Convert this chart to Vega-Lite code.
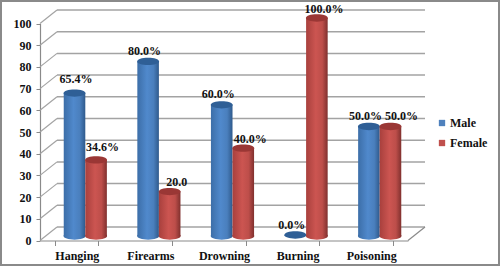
{"$schema":"https://vega.github.io/schema/vega-lite/v6.json","width":500,"height":266,"padding":0,"autosize":"none","background":"#ffffff",
"config":{"view":{"stroke":"#8a8a8a","strokeWidth":4},"font":"Liberation Serif","axis":{"labelFont":"Liberation Serif","labelFontWeight":"bold","labelFontSize":12,"labelColor":"#111111"},"axisY":{"tickCount":11,"labelOverlap":false},"legend":{"labelFont":"Liberation Serif","labelFontWeight":"bold","labelFontSize":12,"labelColor":"#111111"}},
"datasets":{"rows":[
{"method":"Hanging","sex":"Male","value":65.4,"label":"65.4%"},{"method":"Hanging","sex":"Female","value":34.6,"label":"34.6%"},
{"method":"Firearms","sex":"Male","value":80,"label":"80.0%"},{"method":"Firearms","sex":"Female","value":20,"label":"20.0"},
{"method":"Drowning","sex":"Male","value":60,"label":"60.0%"},{"method":"Drowning","sex":"Female","value":40,"label":"40.0%"},
{"method":"Burning","sex":"Male","value":0,"label":"0.0%"},{"method":"Burning","sex":"Female","value":100,"label":"100.0%"},
{"method":"Poisoning","sex":"Male","value":50,"label":"50.0%"},{"method":"Poisoning","sex":"Female","value":50,"label":"50.0%"}],
"ticks":[{"tick":0},{"tick":10},{"tick":20},{"tick":30},{"tick":40},{"tick":50},{"tick":60},{"tick":70},{"tick":80},{"tick":90},{"tick":100}],
"floor":[{"tick":0}]},
"resolve":{"scale":{"x":"independent","xOffset":"independent"},"axis":{"x":"independent"}},
"layer":[
{"data":{"name":"ticks"},"mark":{"type":"rule","color":"#a3a3a3","strokeWidth":1.5,"yOffset":-13.5,"y2Offset":-13.5},
 "encoding":{"x":{"datum":17,"type":"quantitative","scale":{"domain":[0,385],"range":[40,425]},"axis":null},"x2":{"datum":385},"y":{"field":"tick","type":"quantitative","scale":{"domain":[0,100],"range":[240.5,23.5]},"axis":{"values":[0,10,20,30,40,50,60,70,80,90,100],"labelOverlap":false,"title":null,"grid":false,"offset":-40,"domainColor":"#8a8a8a","tickColor":"#8a8a8a","tickSize":4,"labelPadding":5,"domainWidth":1.2}},"y2":{"field":"tick"}}},
{"data":{"name":"ticks"},"mark":{"type":"rule","color":"#a3a3a3","strokeWidth":1.2,"y2Offset":-13.5},
 "encoding":{"x":{"datum":0,"type":"quantitative","scale":{"domain":[0,385],"range":[40,425]},"axis":null},"x2":{"datum":17},"y":{"field":"tick","type":"quantitative"},"y2":{"field":"tick"}}},
{"data":{"name":"floor"},"mark":{"type":"rule","color":"#8a8a8a","strokeWidth":1.2,"y2Offset":-13.5},
 "encoding":{"x":{"datum":368,"type":"quantitative","scale":{"domain":[0,385],"range":[40,425]},"axis":null},"x2":{"datum":385},"y":{"field":"tick","type":"quantitative"},"y2":{"field":"tick"}}},
{"data":{"name":"rows"},"mark":{"type":"point","filled":true,"opacity":0,"shape":"square"},
 "encoding":{"x":{"field":"method","type":"nominal","sort":null,"scale":{"domain":["Hanging","Firearms","Drowning","Burning","Poisoning"],"range":[40,408],"paddingInner":0.414,"paddingOuter":0.207},"axis":{"title":null,"labelAngle":0,"offset":-25.5,"domainColor":"#8a8a8a","tickColor":"#8a8a8a","tickBand":"extent","tickSize":5,"labelPadding":5,"domainWidth":1.2}},"y":{"field":"value","type":"quantitative"},
 "color":{"field":"sex","type":"nominal","scale":{"domain":["Male","Female"],"range":["#4f81bd","#c0504d"]},"legend":{"title":null,"orient":"none","legendX":436,"legendY":117,"symbolType":"square","symbolSize":40,"symbolOpacity":1,"rowPadding":8,"labelOffset":2}}}},
{"data":{"name":"rows"},"transform":[{"filter":"datum.sex==='Male'"}],"layer":[
 {"mark":{"type":"point","filled":true,"opacity":1,"size":484,"shape":"M-1,0A1,0.33,0,1,1,1,0A1,0.33,0,1,1,-1,0Z","fill":{"gradient":"linear","x1":0,"x2":1,"y1":0,"y2":0,"stops":[{"offset":0,"color":"#3c6ea8"},{"offset":0.45,"color":"#5089cc"},{"offset":0.75,"color":"#4a7fbd"},{"offset":1,"color":"#2f5a8c"}]}},
  "transform":[{"filter":"datum.value>0"}],
  "encoding":{"x":{"field":"method","type":"nominal","sort":null,"scale":{"domain":["Hanging","Firearms","Drowning","Burning","Poisoning"],"range":[48.5,416.5],"paddingInner":0.414,"paddingOuter":0.207},"axis":null},"xOffset":{"field":"sex","type":"nominal","scale":{"domain":["Male","Female"]}},"y":{"datum":0,"type":"quantitative"},"yOffset":{"value":-4.5}}},
 {"mark":{"type":"bar","yOffset":-5.5,"y2Offset":-4.5,"fill":{"gradient":"linear","x1":0,"x2":1,"y1":0,"y2":0,"stops":[{"offset":0,"color":"#3c6ea8"},{"offset":0.45,"color":"#5089cc"},{"offset":0.75,"color":"#4a7fbd"},{"offset":1,"color":"#2f5a8c"}]}},
  "encoding":{"x":{"field":"method","type":"nominal","sort":null,"scale":{"domain":["Hanging","Firearms","Drowning","Burning","Poisoning"],"range":[48.5,416.5],"paddingInner":0.414,"paddingOuter":0.207},"axis":null},"xOffset":{"field":"sex","type":"nominal","scale":{"domain":["Male","Female"]}},"y":{"field":"value","type":"quantitative"},"y2":{"datum":0}}},
 {"mark":{"type":"point","filled":true,"opacity":1,"size":484,"fill":"#2f5f96","shape":"M-1,0A1,0.33,0,1,1,1,0A1,0.33,0,1,1,-1,0Z"},
  "encoding":{"x":{"field":"method","type":"nominal","sort":null,"scale":{"domain":["Hanging","Firearms","Drowning","Burning","Poisoning"],"range":[48.5,416.5],"paddingInner":0.414,"paddingOuter":0.207},"axis":null},"xOffset":{"field":"sex","type":"nominal","scale":{"domain":["Male","Female"]}},"y":{"field":"value","type":"quantitative"},"yOffset":{"value":-5.5}}}
]},
{"data":{"name":"rows"},"transform":[{"filter":"datum.sex==='Female'"}],"layer":[
 {"mark":{"type":"point","filled":true,"opacity":1,"size":484,"shape":"M-1,0A1,0.33,0,1,1,1,0A1,0.33,0,1,1,-1,0Z","fill":{"gradient":"linear","x1":0,"x2":1,"y1":0,"y2":0,"stops":[{"offset":0,"color":"#a8403d"},{"offset":0.45,"color":"#cc5551"},{"offset":0.75,"color":"#bd4e4a"},{"offset":1,"color":"#80302e"}]}},
  "encoding":{"x":{"field":"method","type":"nominal","sort":null,"scale":{"domain":["Hanging","Firearms","Drowning","Burning","Poisoning"],"range":[48.5,416.5],"paddingInner":0.414,"paddingOuter":0.207},"axis":null},"xOffset":{"field":"sex","type":"nominal","scale":{"domain":["Male","Female"]}},"y":{"datum":0,"type":"quantitative"},"yOffset":{"value":-4.5}}},
 {"mark":{"type":"bar","yOffset":-5.5,"y2Offset":-4.5,"fill":{"gradient":"linear","x1":0,"x2":1,"y1":0,"y2":0,"stops":[{"offset":0,"color":"#a8403d"},{"offset":0.45,"color":"#cc5551"},{"offset":0.75,"color":"#bd4e4a"},{"offset":1,"color":"#80302e"}]}},
  "encoding":{"x":{"field":"method","type":"nominal","sort":null,"scale":{"domain":["Hanging","Firearms","Drowning","Burning","Poisoning"],"range":[48.5,416.5],"paddingInner":0.414,"paddingOuter":0.207},"axis":null},"xOffset":{"field":"sex","type":"nominal","scale":{"domain":["Male","Female"]}},"y":{"field":"value","type":"quantitative"},"y2":{"datum":0}}},
 {"mark":{"type":"point","filled":true,"opacity":1,"size":484,"fill":"#9a3735","shape":"M-1,0A1,0.33,0,1,1,1,0A1,0.33,0,1,1,-1,0Z"},
  "encoding":{"x":{"field":"method","type":"nominal","sort":null,"scale":{"domain":["Hanging","Firearms","Drowning","Burning","Poisoning"],"range":[48.5,416.5],"paddingInner":0.414,"paddingOuter":0.207},"axis":null},"xOffset":{"field":"sex","type":"nominal","scale":{"domain":["Male","Female"]}},"y":{"field":"value","type":"quantitative"},"yOffset":{"value":-5.5}}}
]},
{"data":{"name":"rows"},"transform":[{"filter":"datum.sex==='Male' && datum.method!=='Hanging'"}],"mark":{"type":"text","font":"Liberation Serif","fontWeight":"bold","fontSize":12,"color":"#111111","baseline":"middle","dx":-3.5,"dy":-16},
 "encoding":{"x":{"field":"method","type":"nominal","sort":null,"scale":{"domain":["Hanging","Firearms","Drowning","Burning","Poisoning"],"range":[48.5,416.5],"paddingInner":0.414,"paddingOuter":0.207},"axis":null},"xOffset":{"field":"sex","type":"nominal","scale":{"domain":["Male","Female"]}},"y":{"field":"value","type":"quantitative"},"text":{"field":"label"}}},
{"data":{"name":"rows"},"transform":[{"filter":"datum.sex==='Female' && datum.method!=='Hanging' && datum.method!=='Poisoning'"}],"mark":{"type":"text","font":"Liberation Serif","fontWeight":"bold","fontSize":12,"color":"#111111","baseline":"middle","dx":7,"dy":-15},
 "encoding":{"x":{"field":"method","type":"nominal","sort":null,"scale":{"domain":["Hanging","Firearms","Drowning","Burning","Poisoning"],"range":[48.5,416.5],"paddingInner":0.414,"paddingOuter":0.207},"axis":null},"xOffset":{"field":"sex","type":"nominal","scale":{"domain":["Male","Female"]}},"y":{"field":"value","type":"quantitative"},"text":{"field":"label"}}},
{"data":{"name":"rows"},"transform":[{"filter":"datum.method==='Hanging' && datum.sex==='Male'"}],"mark":{"type":"text","font":"Liberation Serif","fontWeight":"bold","fontSize":12,"color":"#111111","baseline":"middle","dx":1.5,"dy":-20},
 "encoding":{"x":{"field":"method","type":"nominal","sort":null,"scale":{"domain":["Hanging","Firearms","Drowning","Burning","Poisoning"],"range":[48.5,416.5],"paddingInner":0.414,"paddingOuter":0.207},"axis":null},"xOffset":{"field":"sex","type":"nominal","scale":{"domain":["Male","Female"]}},"y":{"field":"value","type":"quantitative"},"text":{"field":"label"}}},
{"data":{"name":"rows"},"transform":[{"filter":"datum.method==='Hanging' && datum.sex==='Female'"}],"mark":{"type":"text","font":"Liberation Serif","fontWeight":"bold","fontSize":12,"color":"#111111","baseline":"middle","dx":6.5,"dy":-18.5},
 "encoding":{"x":{"field":"method","type":"nominal","sort":null,"scale":{"domain":["Hanging","Firearms","Drowning","Burning","Poisoning"],"range":[48.5,416.5],"paddingInner":0.414,"paddingOuter":0.207},"axis":null},"xOffset":{"field":"sex","type":"nominal","scale":{"domain":["Male","Female"]}},"y":{"field":"value","type":"quantitative"},"text":{"field":"label"}}},
{"data":{"name":"rows"},"transform":[{"filter":"datum.method==='Poisoning' && datum.sex==='Female'"}],"mark":{"type":"text","font":"Liberation Serif","fontWeight":"bold","fontSize":12,"color":"#111111","baseline":"middle","dx":11,"dy":-16},
 "encoding":{"x":{"field":"method","type":"nominal","sort":null,"scale":{"domain":["Hanging","Firearms","Drowning","Burning","Poisoning"],"range":[48.5,416.5],"paddingInner":0.414,"paddingOuter":0.207},"axis":null},"xOffset":{"field":"sex","type":"nominal","scale":{"domain":["Male","Female"]}},"y":{"field":"value","type":"quantitative"},"text":{"field":"label"}}}
]}
